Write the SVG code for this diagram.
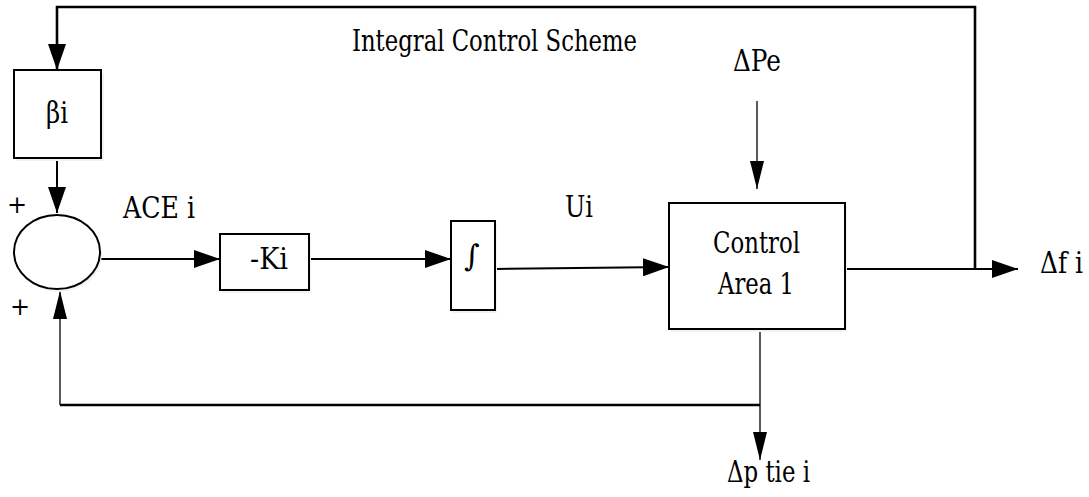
<svg xmlns="http://www.w3.org/2000/svg" width="1089" height="497" viewBox="0 0 1089 497">
<style>
.box{fill:#ffffff;stroke:#000;stroke-width:2}
.shadow{fill:#eef2f9;stroke:none}
.ln{fill:none;stroke:#000;stroke-width:2}
.thin{fill:none;stroke:#000;stroke-width:1.3}
.thick{fill:none;stroke:#000;stroke-width:2.6}
.t{font-family:"DejaVu Serif","Liberation Serif",serif;font-size:29px;fill:#000}
.p{font-family:"DejaVu Serif","Liberation Serif",serif;font-size:24px;fill:#000;text-anchor:middle}
</style>
<defs>
<marker id="ah" markerWidth="26" markerHeight="18" refX="26" refY="9" orient="auto" markerUnits="userSpaceOnUse"><path d="M0,0 L26,9 L0,18 Z" fill="#000"/></marker>
<marker id="ahn" markerWidth="28" markerHeight="14" refX="28" refY="7" orient="auto" markerUnits="userSpaceOnUse"><path d="M0,0 L28,7 L0,14 Z" fill="#000"/></marker>
</defs>
<rect width="1089" height="497" fill="#fff"/>
<g id="connectors">
<polyline class="thick" points="975,269 975,7 57,7 57,70" marker-end="url(#ah)"/>
<line class="ln" x1="57" y1="158" x2="57" y2="213" marker-end="url(#ah)"/>
<line class="ln" x1="101" y1="259" x2="220" y2="259" marker-end="url(#ah)"/>
<line class="ln" x1="309" y1="259" x2="451" y2="259" marker-end="url(#ah)"/>
<line class="ln" x1="495" y1="269" x2="669" y2="267" marker-end="url(#ah)"/>
<line class="thin" x1="757" y1="101" x2="757" y2="189" marker-end="url(#ahn)"/>
<line class="ln" x1="845" y1="269" x2="1018" y2="269" marker-end="url(#ah)"/>
<line class="thin" x1="760" y1="329" x2="760" y2="460" marker-end="url(#ahn)"/>
<line class="thick" x1="60" y1="405" x2="760" y2="405"/>
<line class="thin" x1="60" y1="405" x2="60" y2="291" marker-end="url(#ahn)"/>
</g>
<g id="beta">
<rect class="shadow" x="16" y="73" width="88" height="88"/>
<rect class="box" x="14" y="70" width="87" height="88"/>
<text class="t" x="46" y="123" textLength="22" lengthAdjust="spacingAndGlyphs">βi</text>
</g>
<g id="sum">
<ellipse cx="59" cy="254" rx="43" ry="38" class="shadow"/>
<ellipse cx="57" cy="252" rx="43" ry="37" class="box"/>
<text class="p" x="17" y="213">+</text>
<text class="p" x="20" y="315">+</text>
</g>
<g id="ace">
<text class="t" x="123" y="218" textLength="72" lengthAdjust="spacingAndGlyphs">ACE i</text>
</g>
<g id="ki">
<rect class="shadow" x="222" y="237" width="89" height="56"/>
<rect class="box" x="220" y="234" width="89" height="56"/>
<text class="t" x="250" y="269" textLength="38" lengthAdjust="spacingAndGlyphs">-Ki</text>
</g>
<g id="integrator">
<rect class="shadow" x="453" y="224" width="44" height="89"/>
<rect class="box" x="451" y="221" width="44" height="89"/>
<text class="t" x="472" y="266" text-anchor="middle" style="font-size:30px">∫</text>
</g>
<g id="ui">
<text class="t" x="565" y="217" textLength="28" lengthAdjust="spacingAndGlyphs">Ui</text>
</g>
<g id="title">
<text class="t" x="352" y="51" textLength="285" lengthAdjust="spacingAndGlyphs">Integral Control Scheme</text>
</g>
<g id="dpe">
<text class="t" x="733" y="71" textLength="48" lengthAdjust="spacingAndGlyphs">ΔPe</text>
</g>
<g id="area">
<rect class="shadow" x="671" y="206" width="176" height="126"/>
<rect class="box" x="669" y="203" width="176" height="126"/>
<text class="t" x="713" y="253" textLength="87" lengthAdjust="spacingAndGlyphs">Control</text>
<text class="t" x="718" y="294" textLength="76" lengthAdjust="spacingAndGlyphs">Area 1</text>
</g>
<g id="df">
<text class="t" x="1040" y="273" textLength="43" lengthAdjust="spacingAndGlyphs">Δf i</text>
</g>
<g id="dptie">
<text class="t" x="727" y="482" textLength="83" lengthAdjust="spacingAndGlyphs">Δp tie i</text>
</g>
</svg>
